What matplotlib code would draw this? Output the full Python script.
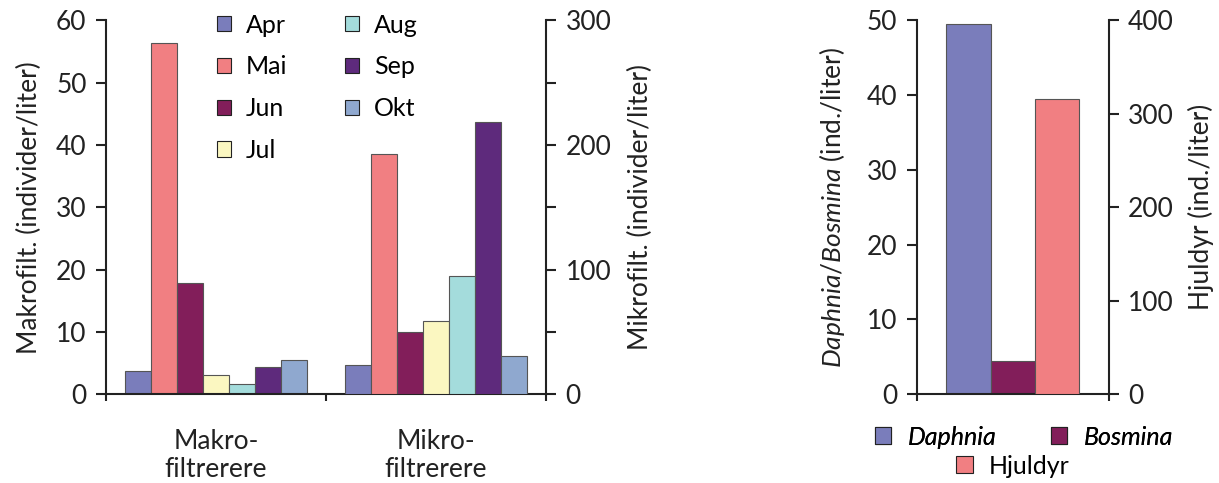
import matplotlib
matplotlib.use("Agg")
import matplotlib.pyplot as plt
import numpy as np
from matplotlib.patches import Patch

plt.rcParams['font.family'] = ['Lato', 'DejaVu Sans']
plt.rcParams['mathtext.fontset'] = 'custom'
plt.rcParams['mathtext.it'] = 'Lato:italic'
plt.rcParams['mathtext.rm'] = 'Lato'

# data
months = ['Apr', 'Mai', 'Jun', 'Jul', 'Aug', 'Sep', 'Okt']
month_colors = ['#7a7dbb', '#f17f82', '#821e5a', '#fbf7c1', '#a4dcdc', '#5e2a7c', '#8fa8cf']
makro = [3.7, 56.4, 17.9, 3.1, 1.6, 4.4, 5.4]        # left axis
mikro = [23, 193, 50, 59, 94.5, 218, 30.5]            # right axis
groups = ['Makro-\nfiltrerere', 'Mikro-\nfiltrerere']

species = ['Daphnia', 'Bosmina', 'Hjuldyr']
species_colors = ['#7a7dbb', '#821e5a', '#f17f82']
daph_bosm = [49.5, 4.45]      # left axis
hjuldyr = [316]               # right axis

ink = '#222222'
fs = 19

fig = plt.figure(figsize=(12.19, 4.83), dpi=100)

def style(ax):
    ax.spines['top'].set_visible(False)
    for s in ['left', 'right', 'bottom']:
        ax.spines[s].set_color(ink)
        ax.spines[s].set_linewidth(1.5)
    ax.tick_params(axis='y', colors=ink, labelsize=fs, width=1.5, length=7, pad=7, direction='out')
    ax.tick_params(axis='x', colors=ink, labelsize=fs, width=1.5, length=5, direction='out')

# ---- left panel ----
ax1 = fig.add_axes([0.087, 0.184, 0.361, 0.774])
ax2 = ax1.twinx()
w = 0.118
offs = (np.arange(len(months)) - 3) * w
for i, m in enumerate(months):
    ax1.bar(0.5 + offs[i], makro[i], w, color=month_colors[i], edgecolor='#555555', linewidth=0.8)
    ax2.bar(1.5 + offs[i], mikro[i], w, color=month_colors[i], edgecolor='#555555', linewidth=0.8)
ax1.set_xlim(0, 2)
ax1.set_ylim(0, 60)
ax2.set_ylim(0, 300)
ax1.set_yticks([0, 10, 20, 30, 40, 50, 60])
ax2.set_yticks([0, 100, 200, 300])
ax2.set_yticks([50, 150, 250], minor=True)
ax1.set_xticks([0, 1, 2])
ax1.set_xticklabels(['', '', ''])
ax1.set_xticks([0.5, 1.5], minor=True)
ax1.set_xticklabels(groups, minor=True, fontsize=fs, color=ink, linespacing=1.15)
style(ax1)
style(ax2)
ax2.spines['left'].set_visible(False)
ax2.spines['bottom'].set_visible(False)
ax1.spines['right'].set_visible(False)
ax1.tick_params(axis='x', which='minor', length=0, pad=25)
ax2.tick_params(axis='y', which='minor', length=7, width=1.5, colors=ink)
ax1.set_ylabel('Makrofilt. (individer/liter)', fontsize=fs, color=ink, labelpad=10)
ax2.set_ylabel('Mikrofilt. (individer/liter)', fontsize=fs, color=ink, labelpad=12)

handles = [Patch(facecolor=c, edgecolor=ink, linewidth=0.8) for c in month_colors]
fig.legend(handles, months, ncol=2, loc='upper left', bbox_to_anchor=(0.178, 0.972),
           frameon=False, fontsize=fs - 1, handlelength=0.56, handleheight=0.56,
           labelspacing=0.75, columnspacing=2.3, handletextpad=0.6,
           borderpad=0, borderaxespad=0)

# ---- right panel ----
bx1 = fig.add_axes([0.752, 0.184, 0.1575, 0.774])
bx2 = bx1.twinx()
bw = 0.23
bx1.bar([0.5 - bw, 0.5], daph_bosm, bw, color=species_colors[:2], edgecolor='#555555', linewidth=0.8)
bx2.bar([0.5 + bw], hjuldyr, bw, color=species_colors[2], edgecolor='#555555', linewidth=0.8)
bx1.set_xlim(0, 1)
bx1.set_ylim(0, 50)
bx2.set_ylim(0, 400)
bx1.set_yticks([0, 10, 20, 30, 40, 50])
bx2.set_yticks([0, 100, 200, 300, 400])
bx1.set_xticks([0, 1])
bx1.set_xticklabels(['', ''])
style(bx1)
style(bx2)
bx2.spines['left'].set_visible(False)
bx2.spines['bottom'].set_visible(False)
bx1.spines['right'].set_visible(False)
bx1.set_ylabel(r'$\mathit{Daphnia/Bosmina}$ (ind./liter)', fontsize=fs, color=ink, labelpad=14)
bx2.set_ylabel('Hjuldyr (ind./liter)', fontsize=fs, color=ink, labelpad=10)

sh = [Patch(facecolor=c, edgecolor=ink, linewidth=0.8) for c in species_colors]
leg1 = fig.legend(sh[:2], species[:2], ncol=2, loc='center', bbox_to_anchor=(0.84, 0.095),
                  frameon=False, handlelength=0.65, handleheight=0.65,
                  columnspacing=2.2, handletextpad=0.65, prop={'style': 'italic', 'size': fs - 1})
leg2 = fig.legend(sh[2:], species[2:], loc='center', bbox_to_anchor=(0.831, 0.035),
                  frameon=False, fontsize=fs - 1, handlelength=0.65, handleheight=0.65,
                  handletextpad=0.65)
fig.add_artist(leg1)

fig.savefig('out.png', dpi=100)
